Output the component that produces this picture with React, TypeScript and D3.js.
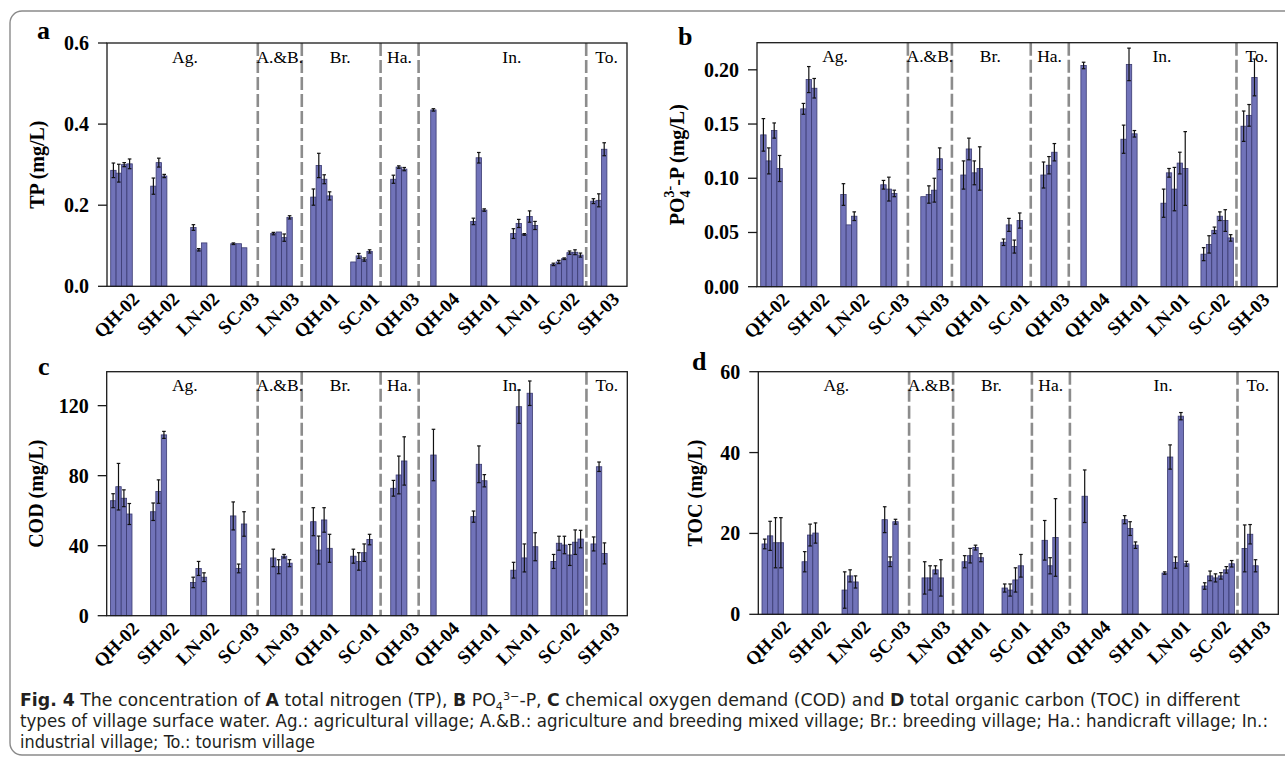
import React, { useEffect, useRef } from 'react';
import * as d3 from 'd3';

// sampling sites, in plotting order
const sites = ['QH-02', 'SH-02', 'LN-02', 'SC-03', 'LN-03', 'QH-01', 'SC-01', 'QH-03', 'QH-04', 'SH-01', 'LN-01', 'SC-02', 'SH-03'];

// village types and the dashed separators between them (in site units)
const groupNames = ['Ag.', 'A.&B.', 'Br.', 'Ha.', 'In.', 'To.'];
const groupBounds = [3.77, 4.87, 6.84, 7.79, 11.98];
const groupLabelAt = [1.95, 4.32, 5.83, 7.31, 10.12, 12.49];

// TP (mg/L)
const tpMean = [
  [0.286, 0.279, 0.300, 0.302],
  [0.247, 0.305, 0.272],
  [0.145, 0.090, 0.107],
  [0.105, 0.105, 0.095],
  [0.130, 0.134, 0.120, 0.170],
  [0.220, 0.298, 0.264, 0.223],
  [0.060, 0.075, 0.066, 0.086],
  [0.264, 0.294, 0.289],
  [0.435],
  [0.160, 0.317, 0.188],
  [0.130, 0.155, 0.128, 0.172, 0.150],
  [0.054, 0.060, 0.068, 0.083, 0.084, 0.077],
  [0.210, 0.212, 0.338],
];
const tpErr = [
  [0.018, 0.022, 0.005, 0.012],
  [0.020, 0.011, 0.004],
  [0.007, 0.003, 0],
  [0.002, 0, 0],
  [0.003, 0, 0.009, 0.004],
  [0.020, 0.030, 0.011, 0.010],
  [0, 0.006, 0.004, 0.004],
  [0.010, 0.003, 0.004],
  [0.003],
  [0.008, 0.013, 0.003],
  [0.012, 0.010, 0.002, 0.014, 0.010],
  [0.003, 0.004, 0.002, 0.004, 0.006, 0.005],
  [0.006, 0.016, 0.016],
];

// PO4 3- -P (mg/L)
const poMean = [
  [0.140, 0.116, 0.144, 0.109],
  [0.164, 0.191, 0.183],
  [0.085, 0.057, 0.065],
  [0.094, 0.090, 0.086],
  [0.083, 0.085, 0.089, 0.118],
  [0.103, 0.127, 0.105, 0.109],
  [0.041, 0.057, 0.037, 0.061],
  [0.103, 0.112, 0.124],
  [0.204],
  [0.136, 0.205, 0.141],
  [0.077, 0.105, 0.090, 0.114, 0.109],
  [0.030, 0.039, 0.052, 0.065, 0.061, 0.045],
  [0.148, 0.158, 0.193],
];
const poErr = [
  [0.015, 0.012, 0.007, 0.012],
  [0.005, 0.012, 0.009],
  [0.010, 0, 0.004],
  [0.004, 0.011, 0.003],
  [0, 0.008, 0.011, 0.010],
  [0.013, 0.010, 0.011, 0.020],
  [0.003, 0.006, 0.006, 0.007],
  [0.012, 0.008, 0.008],
  [0.003],
  [0.013, 0.015, 0.003],
  [0.013, 0.004, 0.020, 0.010, 0.034],
  [0.006, 0.008, 0.003, 0.004, 0.010, 0.003],
  [0.014, 0.010, 0.017],
];

// COD (mg/L)
const codMean = [
  [65.7, 73.7, 67.1, 58.1],
  [59.4, 70.9, 103.3],
  [19, 27, 22],
  [57, 27, 52.4],
  [33, 28, 34, 30],
  [53.7, 37.5, 54.7, 38.5],
  [34, 31, 36, 43.5],
  [72.8, 80.4, 88.4],
  [91.8],
  [56.6, 86.5, 77.1],
  [26, 119.4, 33, 127.1, 39.4],
  [31, 41.4, 40.4, 34.7, 42, 43.8],
  [41, 85.1, 35.6],
];
const codErr = [
  [4, 13.3, 4.8, 6],
  [5, 6.7, 2],
  [3, 4, 2.5],
  [8, 2.5, 7],
  [5, 4, 1, 2],
  [8, 8, 7, 8],
  [4, 5, 5, 3],
  [4.5, 10.8, 13.8],
  [14.7],
  [3.2, 10.5, 3.5],
  [4.5, 9.5, 8, 7, 8],
  [4, 4, 5, 6, 7, 5],
  [4, 2.7, 6],
];

// TOC (mg/L)
const tocMean = [
  [17.4, 19.4, 17.7, 17.7],
  [13, 19.6, 20.1],
  [6, 9.5, 8],
  [23.4, 13, 22.9],
  [9, 9, 11, 9],
  [13, 14.5, 16.5, 14],
  [6.5, 6, 8.5, 12],
  [18.3, 12, 19],
  [29.2],
  [23.4, 21.2, 17.1],
  [10.2, 38.9, 12.8, 49, 12.5],
  [7, 9.5, 9, 9.5, 11, 12.5],
  [16.3, 19.8, 12],
];
const tocErr = [
  [1.2, 3.6, 6.2, 6.2],
  [2.5, 2.7, 2.5],
  [4.5, 1.5, 1.5],
  [3.2, 1.2, 0.6],
  [4, 3, 1, 4.5],
  [1.5, 1.8, 0.6, 1],
  [1, 1.5, 3, 2.8],
  [4.9, 2, 9.6],
  [6.5],
  [1, 1.7, 0.8],
  [0.3, 3, 1.4, 0.9, 0.6],
  [0.8, 1.2, 1, 0.8, 0.8, 0.8],
  [5.8, 2.4, 1.5],
];

const tpTicks = [0, 0.2, 0.4, 0.6];
const poTicks = [0, 0.05, 0.1, 0.15, 0.2];
const codTicks = [0, 40, 80, 120];
const tocTicks = [0, 20, 40, 60];

const serif = "'Liberation Serif', 'Times New Roman', serif";
const barFill = '#7173b9';

const panels = [
  { letter: 'a', lx: 37, ly: 39, mean: tpMean, err: tpErr, max: 0.6, ticks: tpTicks, fmt: '.1f', title: 'TP', titleX: 44, left: 107, right: 627, top: 43, bottom: 286.3 },
  { letter: 'b', lx: 678, ly: 45, mean: poMean, err: poErr, max: 0.225, ticks: poTicks, fmt: '.2f', title: 'PO', titleX: 684, left: 757, right: 1277.3, top: 42.7, bottom: 286.7 },
  { letter: 'c', lx: 38, ly: 375, mean: codMean, err: codErr, max: 139.4, ticks: codTicks, fmt: 'd', title: 'COD', titleX: 43, left: 106.7, right: 627.3, top: 371.7, bottom: 615.7 },
  { letter: 'd', lx: 692, ly: 370, mean: tocMean, err: tocErr, max: 60, ticks: tocTicks, fmt: 'd', title: 'TOC', titleX: 702, left: 758.3, right: 1278.3, top: 371.7, bottom: 614.3 },
];

const drawPanel = (svg, p) => {
  const g = svg.append('g');
  const x = d3.scaleBand().domain(sites).range([p.left, p.right]);
  const u = d3.scaleLinear().domain([0, sites.length]).range([p.left, p.right]);
  const slot = d3.scaleBand().domain(d3.range(6)).range([3.7, 3.7 + 6 * 5.4]);
  const y = d3.scaleLinear().domain([0, p.max]).range([p.bottom, p.top]);

  // dashed separators between village types
  g.selectAll('.sep')
    .data(groupBounds)
    .enter().append('line')
    .attr('x1', d => u(d)).attr('x2', d => u(d))
    .attr('y1', p.top).attr('y2', p.bottom)
    .attr('stroke', '#8c8c8c')
    .attr('stroke-width', 2.6)
    .attr('stroke-dasharray', '13,4');

  // group names
  g.selectAll('.grp')
    .data(groupNames)
    .enter().append('text')
    .attr('x', (d, i) => u(groupLabelAt[i]))
    .attr('y', p.top + 19.5)
    .attr('text-anchor', 'middle')
    .style('font-family', serif)
    .style('font-size', '17.5px')
    .text(d => d);

  // bars + error bars
  const flat = [];
  sites.forEach((s, i) => {
    p.mean[i].forEach((m, j) => flat.push({ site: s, j, m, e: p.err[i][j] }));
  });

  g.selectAll('.bar')
    .data(flat)
    .enter().append('rect')
    .attr('x', d => x(d.site) + slot(d.j))
    .attr('width', slot.bandwidth())
    .attr('y', d => y(d.m))
    .attr('height', d => p.bottom - y(d.m))
    .attr('fill', barFill)
    .attr('stroke', '#3b3b72')
    .attr('stroke-width', 0.8);

  const eb = g.selectAll('.err')
    .data(flat.filter(d => d.e > 0))
    .enter().append('g')
    .attr('stroke', '#111')
    .attr('stroke-width', 1.2);
  const cx = d => x(d.site) + slot(d.j) + slot.bandwidth() / 2;
  eb.append('line')
    .attr('x1', cx).attr('x2', cx)
    .attr('y1', d => y(d.m - d.e)).attr('y2', d => y(d.m + d.e));
  eb.append('line')
    .attr('x1', d => cx(d) - 1.8).attr('x2', d => cx(d) + 1.8)
    .attr('y1', d => y(d.m + d.e)).attr('y2', d => y(d.m + d.e));
  eb.append('line')
    .attr('x1', d => cx(d) - 1.8).attr('x2', d => cx(d) + 1.8)
    .attr('y1', d => y(d.m - d.e)).attr('y2', d => y(d.m - d.e));

  // frame
  g.append('rect')
    .attr('x', p.left).attr('y', p.top)
    .attr('width', p.right - p.left).attr('height', p.bottom - p.top)
    .attr('fill', 'none')
    .attr('stroke', '#1a1a1a')
    .attr('stroke-width', 1.3);

  // y ticks
  const fmt = d3.format(p.fmt);
  g.selectAll('.yt')
    .data(p.ticks)
    .enter().append('line')
    .attr('x1', p.left - 9).attr('x2', p.left)
    .attr('y1', d => y(d)).attr('y2', d => y(d))
    .attr('stroke', '#1a1a1a')
    .attr('stroke-width', 1.3);
  g.selectAll('.yl')
    .data(p.ticks)
    .enter().append('text')
    .attr('x', p.left - 18)
    .attr('y', d => y(d))
    .attr('dy', '0.35em')
    .attr('text-anchor', 'end')
    .style('font-family', serif)
    .style('font-weight', 'bold')
    .style('font-size', '20px')
    .text(d => fmt(d));

  // x labels, rotated
  g.selectAll('.xl')
    .data(sites)
    .enter().append('text')
    .attr('transform', d => `translate(${x(d) + 33.5},${p.bottom + 14}) rotate(-45)`)
    .attr('text-anchor', 'end')
    .style('font-family', serif)
    .style('font-weight', 'bold')
    .style('font-size', '19px')
    .text(d => d);

  // y title
  const t = g.append('text')
    .attr('transform', `translate(${p.titleX},${(p.top + p.bottom) / 2}) rotate(-90)`)
    .attr('text-anchor', 'middle')
    .style('font-family', serif)
    .style('font-weight', 'bold')
    .style('font-size', '20px');
  if (p.title === 'PO') {
    t.append('tspan').text('PO');
    t.append('tspan').attr('dy', 6).style('font-size', '14px').text('4');
    t.append('tspan').attr('dx', -7).attr('dy', -16).style('font-size', '14px').text('3-');
    t.append('tspan').attr('dy', 10).text('-P (mg/L)');
  } else {
    t.text(`${p.title} (mg/L)`);
  }

  // panel letter
  svg.append('text')
    .attr('x', p.lx).attr('y', p.ly)
    .style('font-family', serif)
    .style('font-weight', 'bold')
    .style('font-size', '26px')
    .text(p.letter);
};

const capFont = "'DejaVu Sans Condensed', 'Liberation Sans Narrow', 'DejaVu Sans', sans-serif";

const App = () => {
  const ref = useRef(null);

  useEffect(() => {
    const svg = d3.select(ref.current);
    svg.selectAll('g.charts').remove();
    const root = svg.append('g').attr('class', 'charts');
    panels.forEach(p => drawPanel(root, p));
  }, []);

  return (
    <div style={{ position: 'absolute', left: 0, top: 0 }}>
      <svg ref={ref} width={1285} height={759} style={{ display: 'block', background: '#fff' }}>
        <rect x={10} y={11} width={1300} height={744} rx={12} ry={12} fill="none" stroke="#8a8a8a" strokeWidth={1.4} />
        <g style={{ fontFamily: capFont, fontStretch: 'condensed', fontSize: '17px', fill: '#231f20' }}>
          <text x={20} y={706} textLength={1220} lengthAdjust="spacingAndGlyphs">
            <tspan fontWeight="bold">Fig. 4</tspan>
            <tspan>{'  The concentration of '}</tspan>
            <tspan fontWeight="bold">A</tspan>
            <tspan>{' total nitrogen (TP), '}</tspan>
            <tspan fontWeight="bold">B</tspan>
            <tspan>{' PO'}</tspan>
            <tspan dy={4} fontSize="11px">4</tspan>
            <tspan dy={-10} fontSize="11px">3−</tspan>
            <tspan dy={6}>{'-P, '}</tspan>
            <tspan fontWeight="bold">C</tspan>
            <tspan>{' chemical oxygen demand (COD) and '}</tspan>
            <tspan fontWeight="bold">D</tspan>
            <tspan>{' total organic carbon (TOC) in different'}</tspan>
          </text>
          <text x={20} y={727} textLength={1248} lengthAdjust="spacingAndGlyphs">
            types of village surface water. Ag.: agricultural village; A.&amp;B.: agriculture and breeding mixed village; Br.: breeding village; Ha.: handicraft village; In.:
          </text>
          <text x={20} y={748} textLength={295} lengthAdjust="spacingAndGlyphs">
            industrial village; To.: tourism village
          </text>
        </g>
      </svg>
    </div>
  );
};

export default App;
